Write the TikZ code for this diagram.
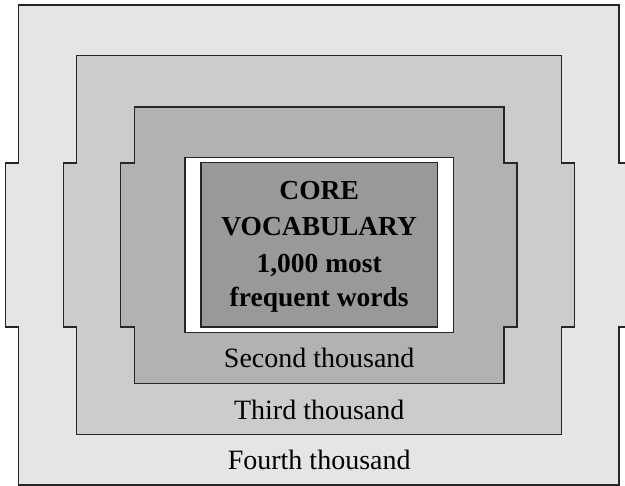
\documentclass[tikz,border=0pt]{standalone}
\usepackage{fontspec}
\setmainfont{Liberation Serif}
\begin{document}
\begin{tikzpicture}[x=1pt,y=-1pt,
  band/.style={draw=black!85,line width=1.1pt,line join=miter},
  lbl/.style={anchor=base,inner sep=0pt,font=\fontsize{28}{30}\selectfont},
  corelbl/.style={anchor=base,inner sep=0pt,font=\fontsize{27.5}{30}\selectfont\bfseries}]
\useasboundingbox (0,0) rectangle (625,486);
\clip (0,0) rectangle (625,486);
% nested notched bands, outermost first
\draw[band,fill=black!10]
  (18.5,5) -- (619,5) -- (619,163) -- (632,163) -- (632,327) -- (619,327)
  -- (619,485) -- (18.5,485) -- (18.5,327) -- (5.5,327) -- (5.5,163)
  -- (18.5,163) -- cycle;
\draw[band,fill=black!20]
  (76.7,55.7) -- (561.7,55.7) -- (561.7,163) -- (574.3,163) -- (574.3,327)
  -- (561.7,327) -- (561.7,434.3) -- (76.7,434.3) -- (76.7,327) -- (63.3,327)
  -- (63.3,163) -- (76.7,163) -- cycle;
\draw[band,fill=black!30]
  (134.3,107) -- (504,107) -- (504,163) -- (517,163) -- (517,327)
  -- (504,327) -- (504,383.3) -- (134.3,383.3) -- (134.3,327) -- (120.7,327)
  -- (120.7,163) -- (134.3,163) -- cycle;
% white frame and core box
\draw[band,fill=white] (185,157.7) rectangle (453.3,332.3);
\draw[band,fill=black!40] (201,162.7) rectangle (437.5,327);
% core text
\node[corelbl] (c1) at (319.2,199.5) {CORE};
\node[corelbl] (c2) at (319.2,236) {VOCABULARY};
\node[corelbl] (c3) at (319.2,272.7) {1,000 most};
\node[corelbl] (c4) at (319.2,307) {frequent words};
% band labels
\node[lbl] (second) at (319.2,368) {Second thousand};
\node[lbl] (third) at (319.2,419.3) {Third thousand};
\node[lbl] (fourth) at (319.2,470) {Fourth thousand};
\end{tikzpicture}
\end{document}
